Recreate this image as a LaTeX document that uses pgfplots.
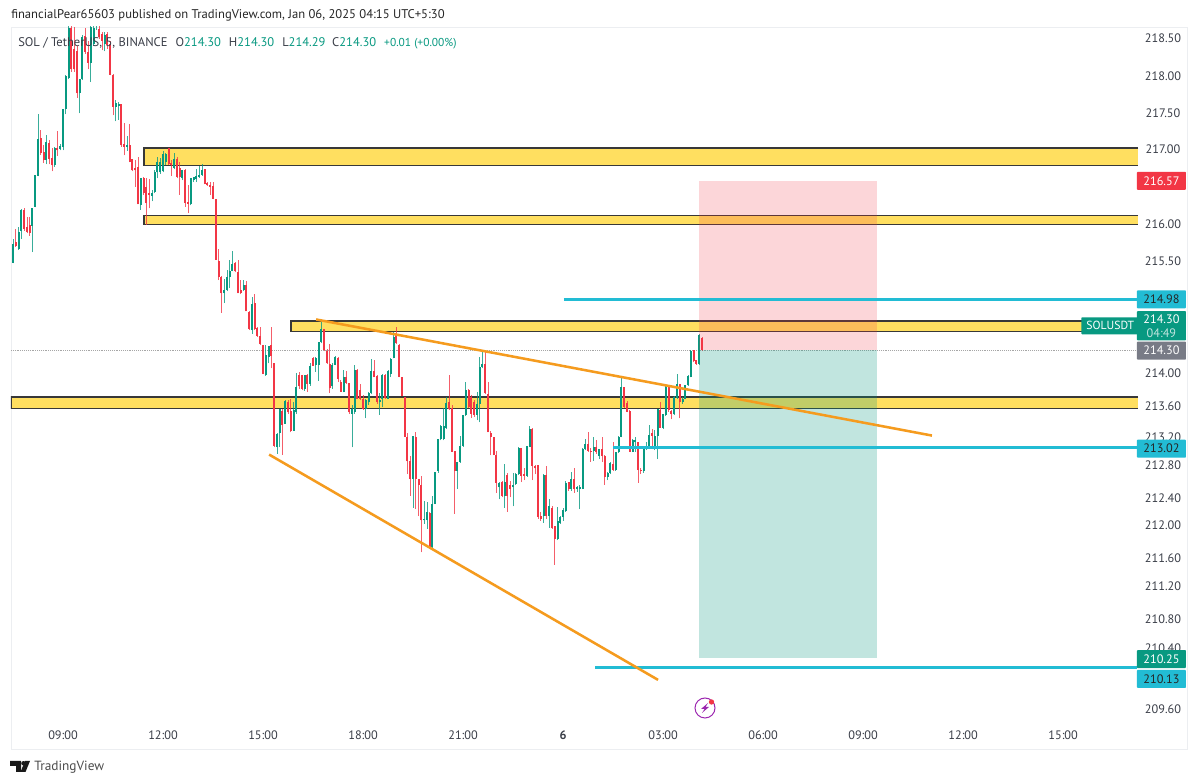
\documentclass[border=0pt]{standalone}
\usepackage{pgfplots}
\usepackage{pgfplotstable}
\usepackage{fontspec}
\setmainfont{PT Sans}
\pgfplotsset{compat=1.18}
\definecolor{upc}{HTML}{089981}
\definecolor{dnc}{HTML}{F23645}
\definecolor{zone}{HTML}{FFDF60}
\definecolor{cyanl}{HTML}{22BCD4}
\definecolor{orangel}{HTML}{F59B1E}
\definecolor{txt}{HTML}{3A3E48}
\definecolor{framec}{HTML}{ECEEF1}
\definecolor{lastp}{HTML}{787B86}
\pgfplotstableread{
x s l b t h
-18 1 215.46 215.47 215.72 215.79
-17 -1 215.68 215.69 215.74 215.92
-16 1 215.64 215.65 215.89 215.95
-15 1 215.79 215.90 216.18 216.18
-14 -1 215.90 215.92 216.18 216.21
-13 -1 215.86 215.88 215.95 216.08
-12 -1 215.83 215.86 215.97 216.08
-11 1 215.61 215.97 216.21 216.21
-10 1 216.21 216.22 216.64 216.65
-9 1 216.63 216.64 217.14 217.47
-8 -1 216.92 216.94 217.14 217.26
-7 -1 216.81 216.84 216.95 217.05
-6 1 216.79 216.85 217.09 217.18
-5 -1 216.79 216.87 217.08 217.12
-4 -1 216.69 216.78 216.88 217.01
-3 1 216.76 216.78 217.01 217.03
-2 -1 216.90 216.98 217.01 217.23
-1 1 216.98 217.00 217.04 217.07
0 1 216.98 217.03 217.54 217.54
1 1 217.47 217.54 217.98 218.00
2 1 217.94 217.96 218.64 218.69
3 -1 218.04 218.08 218.64 218.69
4 -1 218.04 218.07 218.35 218.64
5 -1 217.69 217.75 218.33 218.39
6 1 217.48 217.75 217.94 217.94
7 1 217.93 217.94 218.52 218.55
8 -1 218.29 218.31 218.52 218.64
9 -1 218.07 218.16 218.31 218.46
10 1 217.90 218.16 218.64 218.69
11 1 218.39 218.42 218.64 218.69
12 1 218.61 218.67 218.89 218.94
13 -1 218.49 218.51 218.62 218.69
14 -1 218.33 218.46 218.55 218.58
15 1 218.32 218.42 218.55 218.58
16 -1 218.35 218.40 218.55 218.58
17 -1 217.99 218.00 218.42 218.46
18 -1 217.45 217.57 218.00 218.00
19 1 217.37 217.57 217.62 217.66
20 1 217.39 217.58 217.61 217.64
21 -1 217.03 217.05 217.60 217.60
22 -1 216.91 217.03 217.06 217.34
23 1 216.97 217.03 217.05 217.17
24 -1 216.82 216.82 217.05 217.34
25 -1 216.70 216.71 216.86 216.86
26 -1 216.49 216.71 216.75 216.86
27 -1 216.25 216.25 216.75 216.89
28 1 216.18 216.24 216.61 216.61
29 -1 216.38 216.40 216.60 216.62
30 -1 215.98 216.27 216.49 216.60
31 -1 216.20 216.38 216.40 216.60
32 1 216.29 216.37 216.41 216.44
33 1 216.40 216.41 216.68 216.71
34 1 216.60 216.68 216.82 216.89
35 1 216.66 216.68 216.82 216.88
36 1 216.68 216.69 216.93 216.97
37 1 216.78 216.82 216.93 216.95
38 -1 216.78 216.80 217.02 217.02
39 -1 216.64 216.78 216.82 216.86
40 1 216.73 216.75 216.87 216.95
41 -1 216.60 216.62 216.87 216.88
42 -1 216.38 216.62 216.75 216.82
43 1 216.58 216.60 216.71 216.71
44 -1 216.22 216.27 216.71 216.73
45 -1 216.13 216.26 216.29 216.51
46 1 216.24 216.25 216.60 216.60
47 1 216.55 216.58 216.62 216.62
48 1 216.55 216.59 216.63 216.73
49 1 216.61 216.62 216.65 216.77
50 1 216.64 216.65 216.72 216.80
51 -1 216.52 216.53 216.73 216.74
52 -1 216.50 216.51 216.55 216.56
53 -1 216.38 216.49 216.52 216.55
54 -1 216.32 216.33 216.51 216.56
55 -1 215.51 215.51 216.33 216.33
56 -1 215.24 215.28 215.49 215.66
57 -1 214.80 215.06 215.28 215.30
58 1 214.93 215.06 215.11 215.26
59 1 215.09 215.11 215.28 215.37
60 1 215.13 215.28 215.36 215.51
61 1 215.35 215.36 215.46 215.62
62 -1 215.34 215.35 215.46 215.48
63 -1 215.06 215.06 215.35 215.51
64 -1 215.05 215.06 215.11 215.24
65 1 215.09 215.11 215.18 215.24
66 -1 214.82 214.82 215.18 215.23
67 -1 214.57 214.58 214.81 214.83
68 1 214.52 214.57 214.93 215.01
69 -1 214.57 214.58 214.93 215.05
70 -1 214.48 214.49 214.59 214.61
71 -1 214.37 214.38 214.49 214.62
72 -1 213.99 213.99 214.38 214.38
73 1 213.97 213.98 214.24 214.37
74 1 214.13 214.21 214.37 214.37
75 -1 214.06 214.23 214.37 214.61
76 -1 213.01 213.04 214.13 214.13
77 1 212.93 213.03 213.20 213.20
78 1 213.02 213.20 213.52 213.53
79 -1 212.92 213.31 213.50 213.53
80 1 213.32 213.32 213.62 213.64
81 -1 213.46 213.48 213.62 213.64
82 -1 213.22 213.24 213.50 213.66
83 1 213.23 213.24 213.51 213.62
84 1 213.46 213.48 213.82 214.01
85 -1 213.79 213.82 213.97 214.01
86 -1 213.78 213.79 213.97 213.99
87 1 213.77 213.79 213.97 213.99
88 -1 213.75 213.86 213.97 213.99
89 1 213.83 213.86 214.09 214.13
90 -1 214.09 214.09 214.20 214.21
91 1 214.01 214.10 214.20 214.21
92 1 213.90 214.11 214.41 214.41
93 1 214.39 214.41 214.59 214.70
94 -1 214.29 214.30 214.59 214.59
95 -1 214.12 214.13 214.30 214.32
96 -1 213.73 213.80 214.12 214.39
97 1 213.79 213.82 214.11 214.13
98 1 214.10 214.11 214.22 214.23
99 -1 213.88 213.92 214.21 214.22
100 -1 213.75 213.75 213.88 213.90
101 1 213.74 213.75 213.95 214.04
102 -1 213.86 213.87 213.95 214.03
103 -1 213.46 213.48 213.87 213.88
104 1 213.01 213.46 213.52 213.57
105 1 213.46 213.48 214.05 214.11
106 -1 213.65 213.66 214.05 214.06
107 -1 213.64 213.66 213.79 213.86
108 -1 213.51 213.53 213.66 213.71
109 1 213.40 213.52 213.64 213.66
110 1 213.58 213.62 213.74 213.75
111 1 213.72 213.73 214.03 214.19
112 -1 213.94 213.95 214.03 214.17
113 -1 213.60 213.61 213.96 213.98
114 1 213.44 213.61 213.64 213.73
115 1 213.55 213.66 213.98 213.99
116 -1 213.66 213.67 213.98 213.99
117 1 213.66 213.66 214.03 214.04
118 1 213.95 213.99 214.20 214.20
119 1 214.19 214.19 214.48 214.54
120 -1 214.38 214.39 214.50 214.61
121 -1 213.94 213.95 214.38 214.39
122 -1 213.69 213.69 213.95 213.95
123 -1 213.16 213.16 213.69 213.69
124 -1 212.67 212.83 213.16 213.22
125 -1 212.38 212.59 212.83 212.91
126 1 212.22 212.59 213.16 213.17
127 -1 212.20 212.60 213.16 213.22
128 -1 212.11 212.52 212.59 212.60
129 -1 211.63 212.05 212.52 212.64
130 1 212.01 212.05 212.07 212.31
131 1 211.94 212.06 212.16 212.29
132 -1 211.71 211.71 212.15 212.16
133 1 211.69 211.71 212.27 212.38
134 1 212.27 212.27 212.70 212.70
135 1 212.68 212.70 213.13 213.13
136 1 213.11 213.13 213.30 213.31
137 1 213.11 213.13 213.30 213.55
138 1 213.26 213.28 213.61 213.69
139 -1 213.50 213.52 213.61 213.96
140 -1 212.96 212.96 213.54 213.58
141 -1 212.13 212.70 212.96 212.96
142 1 212.47 212.70 212.82 212.82
143 1 212.81 212.82 213.04 213.17
144 1 213.03 213.04 213.44 213.46
145 1 213.43 213.44 213.77 213.89
146 -1 213.54 213.55 213.77 213.79
147 -1 213.41 213.46 213.68 213.71
148 -1 213.42 213.44 213.61 213.64
149 1 213.37 213.44 213.59 213.75
150 1 213.35 213.59 214.08 214.22
151 1 214.06 214.08 214.12 214.30
152 -1 213.72 213.73 214.12 214.28
153 -1 213.22 213.22 213.73 213.88
154 -1 212.91 213.15 213.22 213.23
155 -1 212.91 212.92 213.15 213.16
156 -1 212.42 212.55 212.92 212.97
157 1 212.33 212.49 212.55 212.56
158 -1 212.36 212.38 212.56 212.58
159 1 212.22 212.38 212.56 212.80
160 -1 212.16 212.38 212.66 212.68
161 -1 212.36 212.46 212.51 212.58
162 1 212.24 212.49 212.53 212.68
163 1 212.52 212.53 212.66 212.68
164 1 212.65 212.66 213.00 213.02
165 -1 212.56 212.64 213.00 213.01
166 -1 212.58 212.64 212.66 212.74
167 1 212.63 212.64 213.03 213.04
168 1 213.02 213.03 213.27 213.30
169 -1 212.58 212.77 213.26 213.27
170 -1 212.66 212.74 212.77 212.78
171 -1 212.08 212.09 212.78 212.79
172 -1 212.04 212.07 212.11 212.16
173 1 212.02 212.11 212.66 212.66
174 -1 212.08 212.11 212.66 212.77
175 1 211.96 212.11 212.24 212.34
176 -1 211.94 211.96 212.22 212.24
177 -1 211.47 211.80 211.98 211.99
178 1 211.79 211.80 212.05 212.22
179 1 212.01 212.02 212.10 212.11
180 1 212.04 212.09 212.18 212.21
181 1 212.16 212.17 212.55 212.57
182 -1 212.44 212.46 212.55 212.56
183 1 212.44 212.46 212.59 212.69
184 -1 212.42 212.46 212.59 212.75
185 1 212.43 212.46 212.49 212.51
186 1 212.20 212.47 212.49 212.51
187 1 212.46 212.47 213.00 213.01
188 1 212.98 212.99 213.06 213.13
189 -1 212.96 212.97 213.06 213.22
190 -1 212.82 212.96 212.97 213.01
191 1 212.84 212.97 213.02 213.16
192 -1 212.93 212.95 213.02 213.11
193 1 212.86 212.90 212.99 213.00
194 -1 212.82 212.90 212.99 213.15
195 -1 212.52 212.63 212.90 212.91
196 1 212.58 212.62 212.68 212.69
197 1 212.66 212.68 212.81 212.82
198 -1 212.71 212.72 212.80 213.08
199 1 212.71 212.72 212.95 212.96
200 1 212.94 212.95 213.16 213.17
201 1 213.15 213.16 213.82 213.96
202 -1 213.54 213.55 213.81 213.83
203 -1 213.48 213.49 213.61 213.63
204 -1 212.96 212.96 213.50 213.52
205 1 212.95 212.96 213.11 213.13
206 1 212.95 213.08 213.12 213.15
207 -1 212.55 212.72 213.08 213.09
208 -1 212.66 212.70 212.72 212.74
209 1 212.69 212.70 213.00 213.01
210 1 212.98 213.00 213.04 213.09
211 1 213.01 213.02 213.19 213.31
212 -1 212.99 213.17 213.20 213.26
213 1 212.98 213.02 213.17 213.24
214 1 212.86 213.17 213.52 213.53
215 -1 213.27 213.28 213.52 213.62
216 1 213.26 213.27 213.45 213.46
217 1 213.43 213.44 213.84 213.85
218 -1 213.49 213.50 213.84 213.85
219 -1 213.38 213.45 213.50 213.51
220 1 213.44 213.45 213.68 213.69
221 1 213.66 213.67 213.85 213.99
222 -1 213.40 213.61 213.85 213.86
223 1 213.59 213.61 213.66 213.68
224 1 213.65 213.66 213.84 213.85
225 1 213.83 213.84 213.96 213.97
226 1 213.94 213.95 214.30 214.31
227 -1 214.14 214.15 214.30 214.31
228 -1 214.11 214.12 214.17 214.18
229 1 214.11 214.12 214.50 214.51
230 -1 214.29 214.30 214.47 214.48
}\candles
\newcommand{\candleplot}[2]{%
\addplot[draw=none,mark=none,forget plot,error bars/.cd,y dir=plus,y explicit,error mark=none,
  error bar style={line width=0.55pt,draw=#1,draw opacity=0.8}]
  table[x expr={\thisrow{s}*#2>0 ? \thisrow{x} : nan},y=l,y error plus expr={16145*ln(\thisrow{h}/\thisrow{l})}] {\candles};
\addplot[draw=none,mark=none,forget plot,error bars/.cd,y dir=plus,y explicit,error mark=none,
  error bar style={line width=1.5pt,draw=#1}]
  table[x expr={\thisrow{s}*#2>0 ? \thisrow{x} : nan},y=b,y error plus expr={16145*ln(\thisrow{t}/\thisrow{b})}] {\candles};
}
\newcommand{\zonebox}[3]{\addplot[forget plot,fill=zone,draw=black!78,line width=0.95pt] coordinates {(387,#2)(#1,#2)(#1,#3)(387,#3)};}
\newcommand{\pricebox}[4]{\node[fill=#2,text=#4,minimum width=36.75pt,minimum height=13.5pt,inner sep=0pt,rounded corners=0.6pt,font=\fontsize{9.2}{10}\selectfont] at (axis cs:395.4,#1) {#3};}
\begin{document}
\begin{tikzpicture}[x=1pt,y=1pt]
\def\PX#1#2{({#1*0.75},{(784-#2)*0.75})}
\path[use as bounding box,fill=white] (0,0) rectangle (900,588);
\begin{axis}[
  at={(8.25pt,26.25pt)},anchor=south west,scale only axis,
  width=882pt,height=541.5pt,
  y coord trafo/.code={\pgfmathparse{16145*ln(#1/214)}},
  xmin=-18.72,xmax=404.6,ymin=209.09,ymax=218.65,
  axis line style={draw=framec,line width=0.6pt},
  tick style={draw=none},major tick length=0pt,minor tick length=0pt,
  xtick={0,36,72,108,144,180,216,252,288,324,360},
  xticklabels={09:00,12:00,15:00,18:00,21:00,\textbf{6},03:00,06:00,09:00,12:00,15:00},
  ytick={218.5,218,217.5,217,216,215.5,214,213.6,213.2,212.8,212.4,212,211.6,211.2,210.8,210.4,209.6},
  yticklabels={218.50,218.00,217.50,217.00,216.00,215.50,214.00,213.60,213.20,212.80,212.40,212.00,211.60,211.20,210.80,210.40,209.60},
  yticklabel pos=right,
  yticklabel style={anchor=center,xshift=-18pt,yshift=-0.6pt,font=\fontsize{9.2}{10}\selectfont,text=txt},
  xticklabel style={anchor=center,yshift=10.5pt,font=\fontsize{9.2}{10}\selectfont,text=txt},
]
% zones
\zonebox{29.16}{217.01}{216.77}
\zonebox{29.16}{216.10}{215.98}
\zonebox{82.1}{214.69}{214.55}
\zonebox{-18.72}{213.68}{213.53}
% last price dotted line
\addplot[forget plot,draw=black!35,line width=0.4pt,densely dotted] coordinates {(-18.72,214.30)(387,214.30)};
% candles
\candleplot{upc}{1}
\candleplot{dnc}{-1}
% risk/reward boxes
\addplot[forget plot,draw=none,fill=dnc,fill opacity=0.2] coordinates {(228.9,216.57)(293,216.57)(293,214.30)(228.9,214.30)} --cycle;
\addplot[forget plot,draw=none,fill=upc,fill opacity=0.25] coordinates {(228.9,214.30)(293,214.30)(293,210.25)(228.9,210.25)} --cycle;
% levels
\addplot[forget plot,draw=cyanl,line width=2.1pt] coordinates {(180.3,214.98)(386.6,214.98)};
\addplot[forget plot,draw=cyanl,line width=2.1pt] coordinates {(198,213.02)(386.6,213.02)};
\addplot[forget plot,draw=cyanl,line width=2.1pt] coordinates {(191.5,210.13)(386.6,210.13)};
% trend lines
\addplot[forget plot,draw=orangel,line width=1.9pt] coordinates {(91.1,214.71)(312.8,213.17)};
\addplot[forget plot,draw=orangel,line width=1.9pt] coordinates {(74.2,212.92)(214.2,209.96)};
% price tags
\pricebox{216.57}{dnc}{216.57}{white}
\pricebox{214.98}{cyanl}{214.98}{black!85}
\pricebox{213.02}{cyanl}{213.02}{black!85}
\pricebox{210.00}{cyanl}{210.13}{black!85}
\pricebox{210.25}{upc}{210.25}{white}
\node[fill=upc,text=white,minimum width=43.5pt,minimum height=12.75pt,inner sep=0pt,rounded corners=0.6pt,font=\fontsize{8.8}{9}\selectfont] at (axis cs:377.0,214.63) {SOLUSDT};
\node[fill=upc,text=white,minimum width=36.75pt,minimum height=22pt,inner sep=0pt,rounded corners=0.6pt,align=center,font=\fontsize{9.2}{10.5}\selectfont] at (axis cs:395.4,214.63) {214.30\\{\color{white!75!upc}04:49}};
\pricebox{214.30}{lastp}{214.30}{white}
\end{axis}
% header
\node[anchor=west,inner sep=0pt,text=black!85,font=\fontsize{9.46}{11}\selectfont] at \PX{11}{15} {financialPear65603 published on TradingView.com, Jan 06, 2025 04:15 UTC+5:30};
\node[anchor=west,inner sep=0pt,text=txt,font=\fontsize{9.4}{11}\selectfont] at \PX{18}{43} {SOL / TetherUS, 5, BINANCE\hspace{6pt}O{\color{upc}214.30}\hspace{6pt}H{\color{upc}214.30}\hspace{6pt}L{\color{upc}214.29}\hspace{5pt}C{\color{upc}214.30}\hspace{6pt}{\color{upc}\fontsize{8.6}{11}\selectfont +0.01 (+0.00\%)}};
% footer logo
\fill[black!90] \PX{10}{761} -- \PX{21}{761} -- \PX{21}{772} -- \PX{16}{772} -- \PX{16}{766} -- \PX{10}{766} -- cycle;
\fill[black!90] \PX{30}{761} -- \PX{25.5}{772} -- \PX{20.5}{772} -- \PX{25}{761} -- cycle;
\fill[black!90] \PX{23.5}{763.3} circle (1.7);
\node[anchor=west,inner sep=0pt,text=black!70,font=\fontsize{10}{12}\selectfont] at \PX{34}{767} {TradingView};
% lightning icon
\draw[color={rgb,255:red,156;green,39;blue,176},line width=0.75pt] \PX{705}{708} circle (7.5);
\fill[color={rgb,255:red,156;green,39;blue,176}] \PX{708}{703} -- \PX{701}{709} -- \PX{704.5}{709} -- \PX{702}{713} -- \PX{709}{707} -- \PX{705.5}{707} -- cycle;
\fill[dnc] \PX{711.5}{702} circle (2);
\end{tikzpicture}
\end{document}
